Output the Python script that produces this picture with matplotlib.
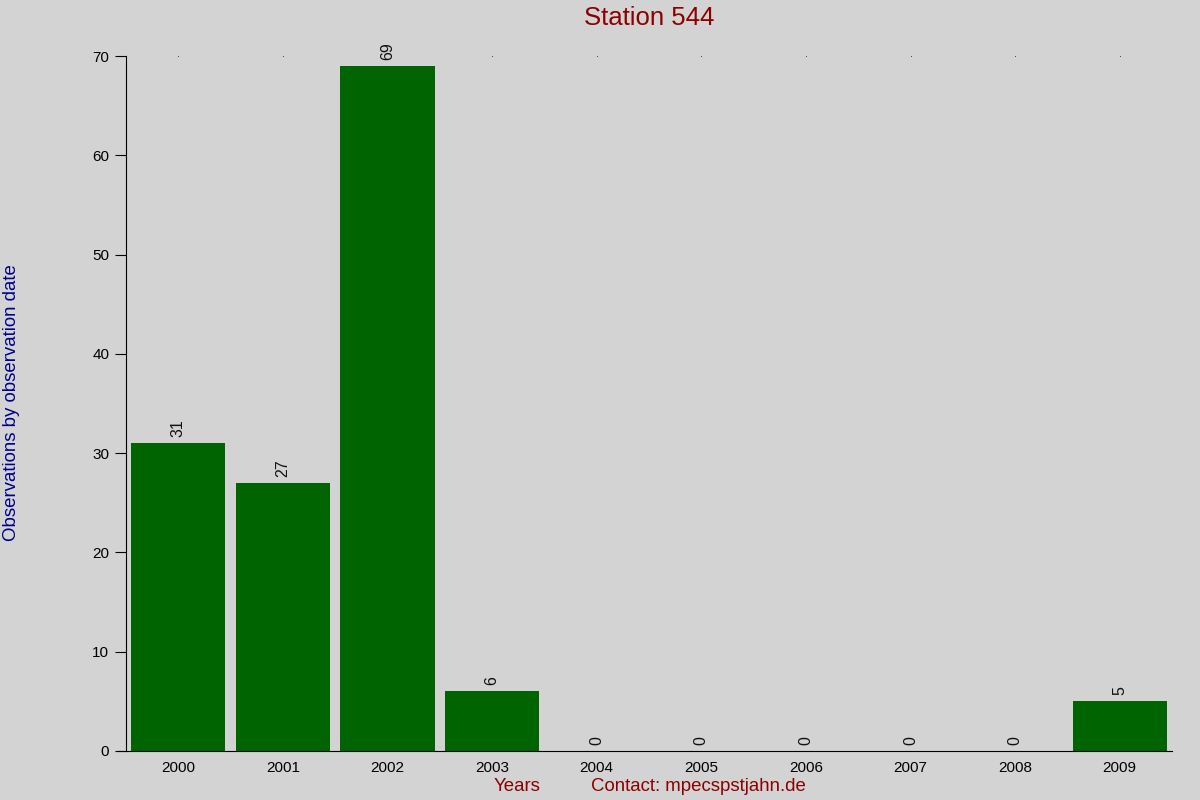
import matplotlib
matplotlib.use("Agg")
import matplotlib.pyplot as plt

# data
years = ["2000", "2001", "2002", "2003", "2004", "2005", "2006", "2007", "2008", "2009"]
counts = [31, 27, 69, 6, 0, 0, 0, 0, 0, 5]
y_ticks = [0, 10, 20, 30, 40, 50, 60, 70]

plt.rcParams["font.family"] = ["Liberation Sans", "DejaVu Sans"]

fig = plt.figure(figsize=(12, 8), dpi=100, facecolor="#d3d3d3")
ax = fig.add_axes([0.105, 0.06125, 0.8717, 0.86875])
ax.set_facecolor("#d3d3d3")

x = list(range(len(years)))
ax.bar(x, counts, width=0.9, color="#006400")

for xi, c in zip(x, counts):
    ax.text(xi, c + 0.6, str(c), rotation=90, ha="center", va="bottom",
            fontsize=11.5, color="#111111", zorder=5,
            bbox=dict(facecolor="#d3d3d3", edgecolor="none", pad=0.5))

ax.set_xlim(-0.5, len(years) - 0.5)
ax.set_ylim(0, 70)
ax.set_yticks(y_ticks)
ax.set_xticks(x)
ax.set_xticklabels(years)
ax.tick_params(axis="y", length=8, labelsize=11, pad=4)
ax.tick_params(axis="x", length=0, labelsize=11, pad=7)

# tiny dots at the top of each column
for xi in x:
    ax.plot(xi, 70, marker="s", markersize=0.45, markeredgewidth=0,
            color="black", clip_on=False, zorder=2)

ax.spines["top"].set_visible(False)
ax.spines["right"].set_visible(False)
ax.spines["bottom"].set_bounds(-0.58, len(years) - 0.5)

fig.text(0.5408, 0.977, "Station 544", ha="center", va="center",
         fontsize=18.5, color="#8b0000")
fig.text(0.0095, 0.497, "Observations by observation date", rotation=90,
         ha="center", va="center", fontsize=13.4, color="#00008b")
fig.text(0.431, 0.017, "Years", ha="center", va="center",
         fontsize=13.4, color="#8b0000")
fig.text(0.4925, 0.017, "Contact: mpecspstjahn.de", ha="left", va="center",
         fontsize=13.4, color="#8b0000")

fig.savefig("out.png", dpi=100, facecolor=fig.get_facecolor())
